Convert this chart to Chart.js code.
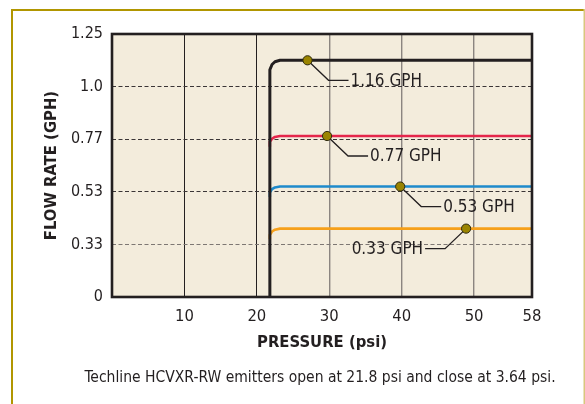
<!DOCTYPE html>
<html>
<head>
<meta charset="utf-8">
<script src="https://cdn.jsdelivr.net/npm/chart.js@4.4.0/dist/chart.umd.min.js"></script>
<style>
  html, body { margin: 0; padding: 0; background: #fff; }
  #wrap { position: relative; width: 585px; height: 404px; }
</style>
</head>
<body>
<div id="wrap"><canvas id="flowChart" width="585" height="404"></canvas></div>
<script>
// axis ticks
var xTickValues = [10, 20, 30, 40, 50, 58];
var yTickValues = [0, 0.33, 0.53, 0.77, 1.0, 1.25];
var yTickLabels = ['0', '0.33', '0.53', '0.77', '1.0', '1.25'];

// emitter curves (pressure psi -> flow GPH)
var pressure = [21.8, 21.8, 22.1, 22.5, 23.2, 58];
var flow116 = [0, 1.08, 1.105, 1.118, 1.125, 1.125];
var flow077 = [0.736, 0.758, 0.772, 0.780, 0.784, 0.784];
var flow053 = [0.51, 0.527, 0.542, 0.55, 0.554, 0.554];
var flow033 = [0.35, 0.366, 0.379, 0.386, 0.39, 0.39];

var seriesNames = ['1.16 GPH', '0.77 GPH', '0.53 GPH', '0.33 GPH'];
var seriesColors = ['#231f20', '#e5264b', '#1f8acb', '#f6a01a'];
var markerPressure = [27, 29.7, 39.8, 48.9];

var FONT = "'DejaVu Sans Condensed', 'Liberation Sans', sans-serif";
var INK = '#231f20';

// y axis: tick values are spaced evenly, values in between are interpolated
var LinearScale = Chart.registry.getScale('linear');
class GphScale extends LinearScale {
  getPixelForValue(value) {
    var n = yTickValues.length - 1, i = 0;
    while (i < n - 1 && value > yTickValues[i + 1]) i++;
    var f = (i + (value - yTickValues[i]) / (yTickValues[i + 1] - yTickValues[i])) / n;
    return this.getPixelForDecimal(f);
  }
  getValueForPixel(pixel) {
    var d = this.getDecimalForPixel(pixel) * (yTickValues.length - 1);
    var i = Math.max(0, Math.min(Math.floor(d), yTickValues.length - 2));
    return yTickValues[i] + (d - i) * (yTickValues[i + 1] - yTickValues[i]);
  }
}
GphScale.id = 'gph';
GphScale.defaults = LinearScale.defaults;
Chart.register(GphScale);

function toPoints(ys) {
  return ys.map(function (y, i) { return { x: pressure[i], y: y }; });
}

var allFlows = [flow116, flow077, flow053, flow033];
var datasets = allFlows.map(function (f, i) {
  return {
    label: seriesNames[i],
    data: toPoints(f),
    borderColor: seriesColors[i],
    borderWidth: i === 0 ? 3 : 2.6,
    borderJoinStyle: 'round',
    pointRadius: 0,
    tension: 0,
    fill: false
  };
});

var chartDecor = {
  id: 'chartDecor',
  beforeDraw: function (chart) {
    var ctx = chart.ctx, a = chart.chartArea;
    ctx.save();
    ctx.fillStyle = '#b19600';
    ctx.fillRect(11, 9, 574, 2);
    ctx.fillRect(11, 9, 2, 395);
    ctx.fillStyle = '#d8c77e';
    ctx.fillRect(583.5, 9, 1.5, 395);
    ctx.fillStyle = '#f3ecdc';
    ctx.fillRect(a.left, a.top, a.right - a.left, a.bottom - a.top);
    ctx.restore();
  },
  afterDatasetsDraw: function (chart) {
    var ctx = chart.ctx, a = chart.chartArea;
    var xs = chart.scales.x, ys = chart.scales.y;
    ctx.save();
    // plot frame
    ctx.strokeStyle = INK;
    ctx.lineWidth = 2.6;
    ctx.strokeRect(a.left, a.top, a.right - a.left, a.bottom - a.top);
    // callouts
    ctx.font = '17px ' + FONT;
    ctx.textBaseline = 'middle';
    allFlows.forEach(function (f, i) {
      var px = xs.getPixelForValue(markerPressure[i]);
      var py = ys.getPixelForValue(f[f.length - 1]);
      var dir = i === 3 ? -1 : 1;
      ctx.strokeStyle = INK;
      ctx.lineWidth = 1.3;
      ctx.beginPath();
      ctx.moveTo(px, py);
      ctx.lineTo(px + dir * 21, py + 20);
      ctx.lineTo(px + dir * 41, py + 20);
      ctx.stroke();
      ctx.beginPath();
      ctx.arc(px, py, 4.6, 0, Math.PI * 2);
      ctx.fillStyle = '#9a8400';
      ctx.fill();
      ctx.lineWidth = 1;
      ctx.strokeStyle = '#2e2a10';
      ctx.stroke();
      ctx.fillStyle = INK;
      ctx.textAlign = dir > 0 ? 'left' : 'right';
      ctx.fillText(seriesNames[i], px + dir * 43, py + 21);
    });
    ctx.restore();
  },
  afterDraw: function (chart) {
    var ctx = chart.ctx, a = chart.chartArea;
    ctx.save();
    ctx.font = '15.5px ' + FONT;
    ctx.fillStyle = INK;
    ctx.textAlign = 'center';
    ctx.textBaseline = 'middle';
    ctx.fillText('Techline HCVXR-RW emitters open at 21.8 psi and close at 3.64 psi.', (a.left + a.right) / 2 - 2, 378);
    ctx.restore();
  }
};

new Chart(document.getElementById('flowChart'), {
  type: 'line',
  data: { datasets: datasets },
  plugins: [chartDecor],
  options: {
    responsive: false,
    animation: false,
    layout: { padding: { top: 34, left: 12, right: 53, bottom: 47 } },
    plugins: { legend: { display: false }, tooltip: { enabled: false } },
    scales: {
      x: {
        type: 'linear',
        min: 0,
        max: 58,
        afterBuildTicks: function (s) { s.ticks = xTickValues.map(function (v) { return { value: v }; }); },
        afterFit: function (s) { s.height = 60; },
        grid: {
          drawTicks: false,
          color: function (c) {
            if (!c.tick || c.tick.value >= 58) return 'transparent';
            return c.tick.value <= 20 ? INK : '#8b8580';
          },
          lineWidth: function (c) { return c.tick && c.tick.value <= 20 ? 1 : 1.4; }
        },
        border: { display: false },
        ticks: {
          autoSkip: false, maxRotation: 0, padding: 10, color: INK,
          font: { family: FONT, size: 16.5 },
          callback: function (v) { return String(v); }
        },
        title: {
          display: true, text: 'PRESSURE (psi)', color: INK,
          font: { family: FONT, size: 16.5, weight: 'bold' },
          padding: { top: 0, bottom: 4 }
        }
      },
      y: {
        type: 'gph',
        min: 0,
        max: 1.25,
        afterBuildTicks: function (s) { s.ticks = yTickValues.map(function (v) { return { value: v }; }); },
        afterFit: function (s) { s.width = 100; },
        grid: {
          drawTicks: false,
          color: function (c) {
            if (!c.tick || c.tick.value === 0 || c.tick.value === 1.25) return 'transparent';
            return c.tick.value === 0.33 ? '#7d7773' : '#3a3536';
          },
          lineWidth: 1
        },
        border: { display: false, dash: [4, 2.5] },
        ticks: {
          padding: 9, color: INK,
          font: { family: FONT, size: 16 },
          callback: function (v, i) { return yTickLabels[i]; }
        },
        title: {
          display: true, text: 'FLOW RATE (GPH)', color: INK,
          font: { family: FONT, size: 16.5, weight: 'bold' },
          padding: { top: 30, bottom: 0 }
        }
      }
    }
  }
});
</script>
</body>
</html>
